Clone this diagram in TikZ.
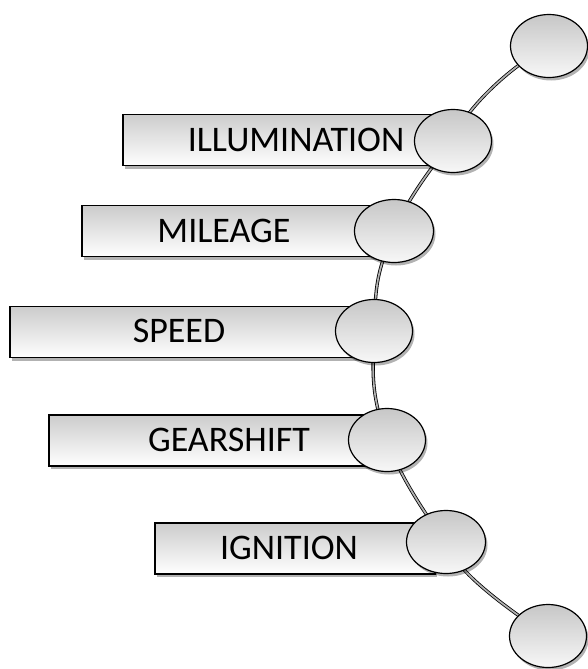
\documentclass[tikz,border=0pt]{standalone}
\usepackage{fontspec}
\setmainfont{Carlito}
\usetikzlibrary{shapes.geometric,shadows,backgrounds}
\begin{document}
\begin{tikzpicture}[x=1pt,y=-1pt,
  shd/.style={drop shadow={shadow xshift=2pt,shadow yshift=-3pt,opacity=0.3,fill=black}},
  bar/.style={draw=black,line width=1.2pt,rectangle,inner sep=0pt,minimum height=51pt,
    top color=black!20,bottom color=white,shd},
  knob/.style={draw=black,line width=1.2pt,ellipse,inner sep=0pt,minimum width=77pt,minimum height=63pt,
    top color=black!22,bottom color=black!3,shd},
  lbl/.style={font=\fontsize{36}{42}\selectfont,inner sep=0pt,text=black,anchor=center},
  wire/.style={draw=black,line width=0.8pt,double=black!30,double distance=1.7pt}]
\useasboundingbox (0,0) rectangle (588,669);
% boxes
\node[bar,minimum width=315pt] (b1) at (280.5,140) {};
\node[bar,minimum width=300pt] (b2) at (232,231) {};
\node[bar,minimum width=355pt] (b3) at (187.5,332) {};
\node[bar,minimum width=326pt] (b4) at (212,440.5) {};
\node[bar,minimum width=280pt] (b5) at (295,548.5) {};
% labels
\node[lbl] (t1) at (296,140) {ILLUMINATION};
\node[lbl] (t2) at (224,231) {MILEAGE};
\node[lbl] (t3) at (179,331) {SPEED};
\node[lbl] (t4) at (229,440) {GEARSHIFT};
\node[lbl] (t5) at (289,548) {IGNITION};
% knobs
\node[knob] (k0) at (549,46) {};
\node[knob] (k1) at (453,141) {};
\node[knob,minimum width=79pt] (k2) at (394,231) {};
\node[knob] (k3) at (374,331) {};
\node[knob] (k4) at (387,440) {};
\node[knob,minimum width=79pt] (k5) at (446,542) {};
\node[knob] (k6) at (548,636) {};
% wire
\begin{scope}[on background layer]
\draw[wire] (k0.center) .. controls (510,66) and (462,112) .. (k1.center);
\draw[wire] plot[smooth,tension=0.8] coordinates {(k1.center) (k2.center) (k3.center) (k4.center) (k5.center)};
\draw[wire] (k5.center) .. controls (455,572) and (510,610) .. (k6.center);
\end{scope}
\end{tikzpicture}
\end{document}
